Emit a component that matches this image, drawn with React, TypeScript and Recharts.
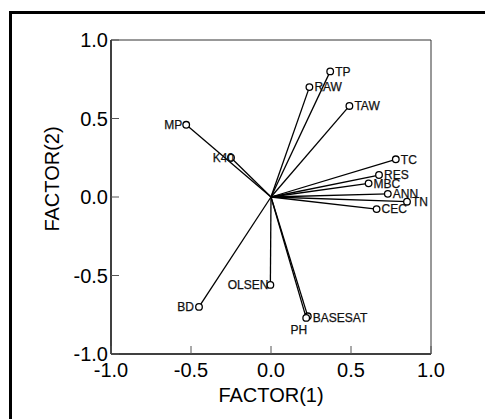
import { ScatterChart, Scatter, XAxis, YAxis } from 'recharts'

const variables = ['TP', 'RAW', 'TAW', 'MP', 'K40', 'TC', 'RES', 'MBC', 'ANN', 'TN', 'CEC', 'OLSEN', 'BD', 'BASESAT', 'PH']
const factor1 = [0.37, 0.24, 0.49, -0.53, -0.25, 0.78, 0.675, 0.61, 0.73, 0.85, 0.66, -0.004, -0.45, 0.23, 0.22]
const factor2 = [0.8, 0.7, 0.58, 0.46, 0.25, 0.24, 0.14, 0.087, 0.02, -0.03, -0.077, -0.56, -0.7, -0.76, -0.77]
const axisTicks = [-1, -0.5, 0, 0.5, 1]

// where each name sits relative to its circle
const labelPlace: Record<string, { dx: number; dy: number; anchor: 'start' | 'end' }> = {
  MP: { dx: -4, dy: 0, anchor: 'end' },
  K40: { dx: 3, dy: 0, anchor: 'end' },
  OLSEN: { dx: -2, dy: 0, anchor: 'end' },
  BD: { dx: -5, dy: 0, anchor: 'end' },
  PH: { dx: 1, dy: 12, anchor: 'end' },
  BASESAT: { dx: 5, dy: 1, anchor: 'start' },
}

const vectors = variables.map((name, i) => [
  { x: 0, y: 0 },
  { x: factor1[i], y: factor2[i], name },
])

const W = 485
const H = 411
const font = 'Arial, "Liberation Sans", sans-serif'
const fmt = (v: number) => v.toFixed(1)

function VectorEnd(props: any) {
  const { cx, cy, payload } = props
  if (!payload || !payload.name) return <g />
  const place = labelPlace[payload.name] || { dx: 5, dy: 0, anchor: 'start' }
  return (
    <g>
      <circle cx={cx} cy={cy} r={3.3} fill="#fff" stroke="#000" strokeWidth={1.3} />
      <text
        x={cx + place.dx}
        y={cy + place.dy}
        dy="0.36em"
        textAnchor={place.anchor}
        fontFamily={font}
        fontSize={12}
        fill="#111"
        stroke="#111"
        strokeWidth={0.25}
      >
        {payload.name}
      </text>
    </g>
  )
}

const BottomTick = (props: any) => {
  const { x, y, payload } = props
  return (
    <g>
      <line x1={x} y1={y} x2={x} y2={y - 8} stroke="#555" strokeWidth={1} />
      <text x={x} y={y + 23} textAnchor="middle" fontFamily={font} fontSize={20} fill="#000">
        {fmt(payload.value)}
      </text>
    </g>
  )
}

const LeftTick = (props: any) => {
  const { x, y, payload } = props
  return (
    <g>
      <line x1={x} y1={y} x2={x + 8} y2={y} stroke="#555" strokeWidth={1} />
      <text x={x - 3} y={y} dy="0.36em" textAnchor="end" fontFamily={font} fontSize={20} fill="#000">
        {fmt(payload.value)}
      </text>
    </g>
  )
}

const TopTick = (props: any) => {
  const { x, y } = props
  return <line x1={x} y1={y} x2={x} y2={y + 8} stroke="#555" strokeWidth={1} />
}

const RightTick = (props: any) => {
  const { x, y } = props
  return <line x1={x} y1={y} x2={x - 8} y2={y} stroke="#555" strokeWidth={1} />
}

const XTitle = (props: any) => {
  const { viewBox } = props
  return (
    <text x={viewBox.x + viewBox.width / 2} y={viewBox.y + 48} textAnchor="middle" fontFamily={font} fontSize={20} fill="#000">
      FACTOR(1)
    </text>
  )
}

const YTitle = (props: any) => {
  const { viewBox } = props
  const cx = viewBox.x - 58
  const cy = viewBox.y + viewBox.height / 2 - 18
  return (
    <text x={cx} y={cy} dy="0.36em" textAnchor="middle" transform={`rotate(-90 ${cx} ${cy})`} fontFamily={font} fontSize={20} fill="#000">
      FACTOR(2)
    </text>
  )
}

export default function App() {
  return (
    <div style={{ position: 'relative', width: W, height: H, overflow: 'hidden', background: '#fff' }}>
      <div
        style={{
          position: 'absolute',
          left: 1,
          top: 3,
          width: 600,
          height: 600,
          borderLeft: '3px solid #000',
          borderTop: '3px solid #000',
        }}
      />
      <div style={{ position: 'absolute', left: 0, top: 0 }}>
        <ScatterChart width={W} height={H} margin={{ top: 31, right: 61, bottom: 64, left: 102 }}>
          <XAxis
            type="number"
            dataKey="x"
            domain={[-1, 1]}
            ticks={axisTicks}
            height={1}
            tickSize={0}
            tickMargin={0}
            tickLine={false}
            tick={<BottomTick />}
            axisLine={{ stroke: '#000', strokeWidth: 1.5 }}
            allowDataOverflow
            label={<XTitle />}
          />
          <XAxis
            xAxisId="top"
            orientation="top"
            type="number"
            dataKey="x"
            domain={[-1, 1]}
            ticks={axisTicks}
            height={1}
            tickSize={0}
            tickMargin={0}
            tickLine={false}
            tick={<TopTick />}
            axisLine={{ stroke: '#333', strokeWidth: 1 }}
          />
          <YAxis
            type="number"
            dataKey="y"
            domain={[-1, 1]}
            ticks={axisTicks}
            width={1}
            tickSize={0}
            tickMargin={0}
            tickLine={false}
            tick={<LeftTick />}
            axisLine={{ stroke: '#000', strokeWidth: 1.5 }}
            allowDataOverflow
            label={<YTitle />}
          />
          <YAxis
            yAxisId="right"
            orientation="right"
            type="number"
            dataKey="y"
            domain={[-1, 1]}
            ticks={axisTicks}
            width={1}
            tickSize={0}
            tickMargin={0}
            tickLine={false}
            tick={<RightTick />}
            axisLine={{ stroke: '#333', strokeWidth: 1 }}
          />
          {vectors.map((pts, i) => (
            <Scatter
              key={variables[i]}
              data={pts}
              line={{ stroke: '#000', strokeWidth: 1.3 }}
              shape={<VectorEnd />}
              isAnimationActive={false}
            />
          ))}
        </ScatterChart>
      </div>
    </div>
  )
}
